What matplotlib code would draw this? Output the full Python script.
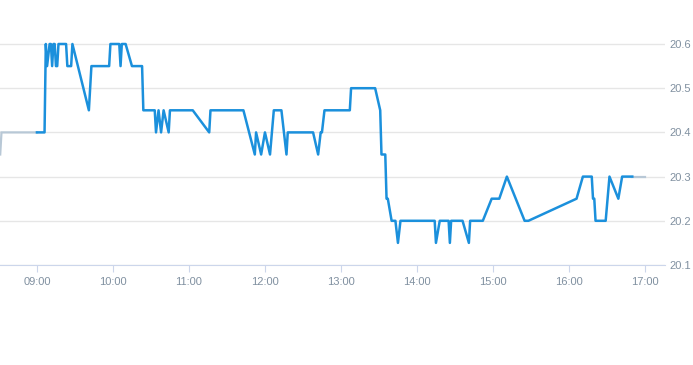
import pandas as pd
import matplotlib.pyplot as plt
import matplotlib.dates as mdates

# 行情数据 (时间, 价格)
times = ['09:00', '09:06', '09:07', '09:08', '09:10', '09:11', '09:12', '09:13', '09:14',
         '09:15', '09:16', '09:17', '09:23', '09:24', '09:27', '09:28', '09:41', '09:43',
         '09:57', '09:58', '10:05', '10:06', '10:07', '10:10', '10:15', '10:23', '10:24',
         '10:33', '10:34', '10:36', '10:38', '10:40', '10:44', '10:45', '11:03', '11:16',
         '11:17', '11:43', '11:52', '11:53', '11:57', '12:00', '12:04', '12:07', '12:13',
         '12:17', '12:18', '12:38', '12:42', '12:44', '12:45', '12:47', '13:07', '13:08',
         '13:27', '13:31', '13:32', '13:35', '13:36', '13:37', '13:40', '13:43', '13:45',
         '13:47', '14:14', '14:15', '14:18', '14:25', '14:26', '14:27', '14:36', '14:41',
         '14:42', '14:52', '14:59', '15:05', '15:11', '15:25', '15:28', '16:06', '16:11',
         '16:18', '16:19', '16:20', '16:21', '16:29', '16:32', '16:39', '16:42', '16:50']
prices = [20.40, 20.40, 20.60, 20.55, 20.60, 20.60, 20.55, 20.60, 20.60,
          20.55, 20.55, 20.60, 20.60, 20.55, 20.55, 20.60, 20.45, 20.55,
          20.55, 20.60, 20.60, 20.55, 20.60, 20.60, 20.55, 20.55, 20.45,
          20.45, 20.40, 20.45, 20.40, 20.45, 20.40, 20.45, 20.45, 20.40,
          20.45, 20.45, 20.35, 20.40, 20.35, 20.40, 20.35, 20.45, 20.45,
          20.35, 20.40, 20.40, 20.35, 20.40, 20.40, 20.45, 20.45, 20.50,
          20.50, 20.45, 20.35, 20.35, 20.25, 20.25, 20.20, 20.20, 20.15,
          20.20, 20.20, 20.15, 20.20, 20.20, 20.15, 20.20, 20.20, 20.15,
          20.20, 20.20, 20.25, 20.25, 20.30, 20.20, 20.20, 20.25, 20.30,
          20.30, 20.25, 20.25, 20.20, 20.20, 20.30, 20.25, 20.30, 20.30]

# 盘前 / 盘后 (灰色)
pre_times = ['08:31', '08:32', '09:00']
pre_prices = [20.35, 20.40, 20.40]
post_times = ['16:50', '17:00']
post_prices = [20.30, 20.30]

y_ticks = [20.1, 20.2, 20.3, 20.4, 20.5, 20.6]
x_ticks = ['09:00', '10:00', '11:00', '12:00', '13:00', '14:00', '15:00', '16:00', '17:00']


def to_dt(ts):
    return pd.to_datetime(['2024-01-01 ' + t for t in ts])


plt.rcParams['font.family'] = ['Liberation Sans', 'DejaVu Sans']

fig = plt.figure(figsize=(6.93, 3.65), dpi=100)
ax = fig.add_axes([0, 0.274, 665 / 693, 0.666])

ax.plot(to_dt(pre_times), pre_prices, color='#b8c8d6', lw=1.6, solid_joinstyle='miter')
ax.plot(to_dt(post_times), post_prices, color='#b8c8d6', lw=1.6)
ax.plot(to_dt(times), prices, color='#1b90dc', lw=1.8, solid_joinstyle='round')

ax.set_xlim(pd.Timestamp('2024-01-01 08:30:50'), pd.Timestamp('2024-01-01 17:15:50'))
ax.set_ylim(20.1, 20.65)
ax.set_yticks(y_ticks)
ax.set_xticks(to_dt(x_ticks))
ax.xaxis.set_major_formatter(mdates.DateFormatter('%H:%M'))

ax.yaxis.tick_right()
ax.grid(axis='y', color='#e6e6e6', lw=1)
ax.set_axisbelow(True)
for s in ['top', 'left', 'right']:
    ax.spines[s].set_visible(False)
ax.spines['bottom'].set_color('#ccd6eb')
ax.tick_params(axis='y', length=0, pad=3, labelsize=8, labelcolor='#8090a0')
ax.tick_params(axis='x', length=5, color='#ccd6eb', pad=4, labelsize=8, labelcolor='#8090a0')

fig.savefig('out.png', dpi=100)
